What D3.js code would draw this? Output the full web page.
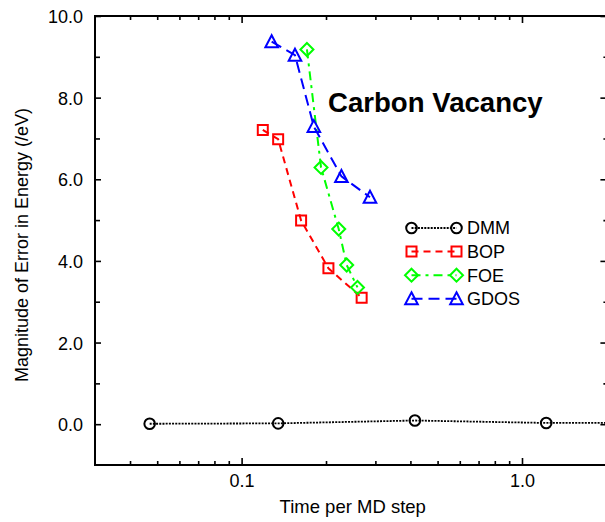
<!DOCTYPE html>
<html>
<head>
<meta charset="utf-8">
<script src="https://cdn.jsdelivr.net/npm/d3@7"></script>
<style>
  body { margin: 0; background: #fff; }
  svg { display: block; font-family: "Liberation Sans", Arial, Helvetica, sans-serif; }
</style>
</head>
<body>
<svg id="chart"></svg>
<script>
// values
const seriesNames = ['DMM', 'BOP', 'FOE', 'GDOS'];

const dmmTime  = [0.047, 0.135, 0.415, 1.22, 3.6];
const dmmError = [0.01, 0.02, 0.09, 0.03, 0.03];

const bopTime  = [0.119, 0.135, 0.163, 0.204, 0.268];
const bopError = [7.21, 6.98, 4.99, 3.82, 3.10];

const foeTime  = [0.171, 0.192, 0.222, 0.237, 0.259];
const foeError = [9.18, 6.29, 4.78, 3.90, 3.35];

const gdosTime  = [0.128, 0.155, 0.181, 0.227, 0.287];
const gdosError = [9.37, 9.04, 7.29, 6.07, 5.56];

const xDomain = [0.03, 2];
const yDomain = [-1, 10];
const yMajorTicks = [0, 2, 4, 6, 8, 10];
const yMinorTicks = [1, 3, 5, 7, 9];

const width = 605, height = 522;
const margin = {left: 95, top: 16, right: 606.4, bottom: 465};

const svg = d3.select('#chart')
    .attr('width', width)
    .attr('height', height);

const x = d3.scaleLog().domain(xDomain).range([margin.left, margin.right]);
const y = d3.scaleLinear().domain(yDomain).range([margin.bottom, margin.top]);

const xMajor = [0.1, 1];
const xMinor = x.ticks().filter(v => !xMajor.some(m => Math.abs(m - v) < 1e-9) && v > xDomain[0]);

svg.append('clipPath').attr('id', 'plotclip')
  .append('rect')
    .attr('x', margin.left).attr('y', margin.top)
    .attr('width', margin.right - margin.left)
    .attr('height', margin.bottom - margin.top);

// ticks, all pointing inward
function ticks(axisFn, scale, values, size, pos, labels) {
  const g = svg.append('g')
      .attr('transform', pos)
      .call(axisFn(scale).tickValues(values).tickSizeInner(size).tickSizeOuter(0)
        .tickPadding(labels ? (axisFn === d3.axisLeft ? 12 : 9) : 0)
        .tickFormat(labels ? labels : () => ''));
  g.select('.domain').remove();
  g.selectAll('.tick line').attr('stroke', '#000').attr('stroke-width', 1.6);
  g.selectAll('.tick text').attr('font-size', 18).attr('fill', '#000');
  return g;
}

ticks(d3.axisBottom, x, xMajor, -7, `translate(0,${margin.bottom})`, d3.format('.1f'));
ticks(d3.axisBottom, x, xMinor, -4, `translate(0,${margin.bottom})`);
ticks(d3.axisTop, x, xMajor, -7, `translate(0,${margin.top})`);
ticks(d3.axisTop, x, xMinor, -4, `translate(0,${margin.top})`);
ticks(d3.axisLeft, y, yMajorTicks, -6, `translate(${margin.left},0)`, d3.format('.1f'))
  .selectAll('.tick text').attr('dy', '0.36em');
ticks(d3.axisLeft, y, yMinorTicks, -5, `translate(${margin.left},0)`);
ticks(d3.axisRight, y, yMajorTicks, -6, `translate(${margin.right},0)`);
ticks(d3.axisRight, y, yMinorTicks, -3, `translate(${margin.right},0)`);

// frame
svg.append('rect')
    .attr('x', margin.left).attr('y', margin.top)
    .attr('width', margin.right - margin.left)
    .attr('height', margin.bottom - margin.top)
    .attr('fill', 'none')
    .attr('stroke', '#000')
    .attr('stroke-width', 2);

const series = [
  {name: seriesNames[0], t: dmmTime,  e: dmmError,  color: '#000000', dash: '2,1.2', marker: 'circle', lw: 1.8},
  {name: seriesNames[1], t: bopTime,  e: bopError,  color: '#ff0000', dash: '7,5',   marker: 'square', lw: 2},
  {name: seriesNames[2], t: foeTime,  e: foeError,  color: '#00ff00', dash: '9,5,3,5', marker: 'diamond', lw: 2},
  {name: seriesNames[3], t: gdosTime, e: gdosError, color: '#0000ff', dash: '11,6',  marker: 'triangle', lw: 2}
];

function markerPath(type) {
  if (type === 'circle') return d3.symbol(d3.symbolCircle, Math.PI * 5.3 * 5.3)();
  if (type === 'square') return 'M-5,-5L5,-5L5,5L-5,5Z';
  if (type === 'diamond') return 'M0,-6.5L6.5,0L0,6.5L-6.5,0Z';
  return 'M0,-6.5L6.3,5.5L-6.3,5.5Z';
}

const line = d3.line().x(d => x(d[0])).y(d => y(d[1]));

const plot = svg.append('g').attr('clip-path', 'url(#plotclip)');

series.forEach(s => {
  const pts = s.t.map((t, i) => [t, s.e[i]]);
  plot.append('path')
      .attr('d', line(pts))
      .attr('fill', 'none')
      .attr('stroke', s.color)
      .attr('stroke-width', s.lw)
      .attr('stroke-dasharray', s.dash);
  plot.selectAll(null)
    .data(pts)
    .enter()
    .append('path')
      .attr('d', markerPath(s.marker))
      .attr('transform', d => `translate(${x(d[0])},${y(d[1])})`)
      .attr('fill', 'none')
      .attr('stroke', s.color)
      .attr('stroke-width', 2);
});

// legend
const legend = svg.append('g');
series.forEach((s, i) => {
  const ly = 228 + i * 23.6;
  legend.append('line')
      .attr('x1', 411.5).attr('x2', 456.5)
      .attr('y1', ly).attr('y2', ly)
      .attr('stroke', s.color)
      .attr('stroke-width', s.lw)
      .attr('stroke-dasharray', s.dash);
  [411.5, 456.5].forEach(lx => {
    legend.append('path')
        .attr('d', markerPath(s.marker))
        .attr('transform', `translate(${lx},${ly})`)
        .attr('fill', 'none')
        .attr('stroke', s.color)
        .attr('stroke-width', 2);
  });
  legend.append('text')
      .attr('x', 467).attr('y', ly)
      .attr('dy', '0.36em')
      .attr('font-size', 18)
      .text(s.name);
});

// titles
svg.append('text')
    .attr('x', 328).attr('y', 112)
    .attr('font-size', 27.6)
    .attr('font-weight', 'bold')
    .text('Carbon Vacancy');

svg.append('text')
    .attr('x', (margin.left + margin.right) / 2 + 2).attr('y', 513)
    .attr('text-anchor', 'middle')
    .attr('font-size', 18.5)
    .text('Time per MD step');

svg.append('text')
    .attr('transform', 'translate(28,245) rotate(-90)')
    .attr('text-anchor', 'middle')
    .attr('font-size', 18)
    .text('Magnitude of Error in Energy (/eV)');
</script>
</body>
</html>
